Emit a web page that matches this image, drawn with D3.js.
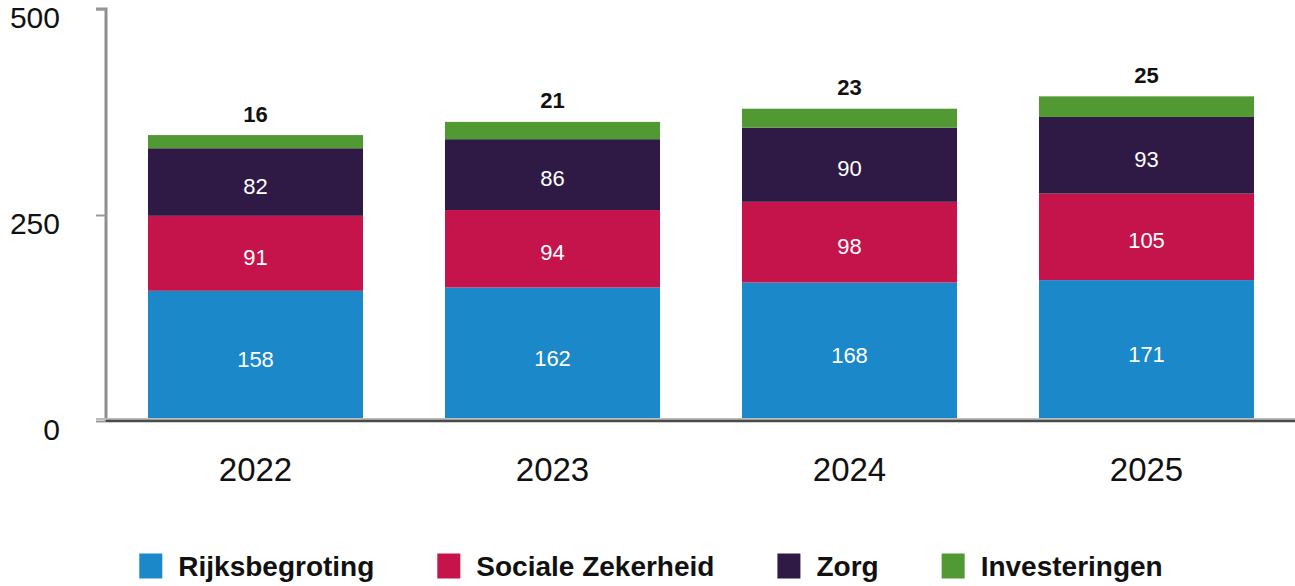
<!DOCTYPE html>
<html>
<head>
<meta charset="utf-8">
<script src="https://cdn.jsdelivr.net/npm/d3@7"></script>
<style>
  html, body { margin: 0; padding: 0; background: #ffffff; }
  svg { display: block; font-family: "Liberation Sans", Arial, sans-serif; }
</style>
</head>
<body>
<svg id="chart" width="1295" height="586"></svg>
<script>
const years = ["2022", "2023", "2024", "2025"];
const seriesNames = ["Rijksbegroting", "Sociale Zekerheid", "Zorg", "Investeringen"];
const rijksbegroting = [158, 162, 168, 171];
const socialeZekerheid = [91, 94, 98, 105];
const zorg = [82, 86, 90, 93];
const investeringen = [16, 21, 23, 25];
const yTicks = [0, 250, 500];
const colors = ["#1b88ca", "#c4144b", "#2e1a44", "#509933"];

const seriesValues = [rijksbegroting, socialeZekerheid, zorg, investeringen];
const rows = years.map((yr, i) => {
  const r = { year: yr };
  seriesNames.forEach((s, j) => r[s] = seriesValues[j][i]);
  return r;
});
const stacked = d3.stack().keys(seriesNames)(rows);

const svg = d3.select("#chart");

const x = d3.scaleBand().domain(years).range([107, 1295]).paddingInner(0.276).paddingOuter(0.138);
const y = d3.scaleLinear().domain([0, 500]).range([421, 9]);

// bars
const layers = svg.append("g").selectAll("g").data(stacked).join("g")
  .attr("fill", (d, i) => colors[i]);
layers.selectAll("rect").data(d => d).join("rect")
  .attr("x", d => x(d.data.year))
  .attr("width", x.bandwidth())
  .attr("y", d => y(d[1]))
  .attr("height", d => y(d[0]) - y(d[1]));

// inner labels (first three series)
stacked.slice(0, 3).forEach((layer) => {
  svg.append("g").selectAll("text").data(layer).join("text")
    .attr("x", d => x(d.data.year) + x.bandwidth() / 2)
    .attr("y", d => (y(d[0]) + y(d[1])) / 2 + 4)
    .attr("text-anchor", "middle")
    .attr("dominant-baseline", "central")
    .attr("fill", "#ffffff")
    .attr("font-size", 22)
    .text(d => d[1] - d[0]);
});

// top labels (Investeringen)
const topLayer = stacked[3];
svg.append("g").selectAll("text").data(topLayer).join("text")
  .attr("x", d => x(d.data.year) + x.bandwidth() / 2)
  .attr("y", d => y(d[1]) - 21)
  .attr("text-anchor", "middle")
  .attr("dominant-baseline", "central")
  .attr("fill", "#111111")
  .attr("font-weight", "bold")
  .attr("font-size", 22)
  .text(d => d[1] - d[0]);

// y axis
const yAxis = d3.axisLeft(y).tickValues(yTicks).tickSize(10).tickFormat(d3.format("d"));
const gy = svg.append("g").attr("transform", "translate(106,0)").call(yAxis);
gy.select(".domain").attr("stroke", "#8f8f8f").attr("stroke-width", 3)
  .attr("d", `M-10,${y(500)}H0V${y(0)}`);
gy.selectAll(".tick line").attr("stroke", "#9a9a9a").attr("stroke-width", 2);
gy.selectAll(".tick text")
  .attr("x", -46)
  .attr("dy", "0.35em")
  .attr("transform", "translate(0,8)")
  .attr("font-family", "'Liberation Sans', Arial, sans-serif")
  .attr("font-size", 30)
  .attr("fill", "#111111");

// baseline
svg.append("line").attr("x1", 96).attr("x2", 1295).attr("y1", y(0) - 2).attr("y2", y(0) - 2)
  .attr("stroke", "#bdbdbd").attr("stroke-width", 2);
svg.append("line").attr("x1", 106).attr("x2", 1295).attr("y1", y(0)).attr("y2", y(0))
  .attr("stroke", "#4a4a4a").attr("stroke-width", 2.5);

// x axis labels
const xAxis = d3.axisBottom(x).tickSize(0).tickPadding(0);
const gx = svg.append("g").attr("transform", `translate(0,${y(0)})`).call(xAxis);
gx.select(".domain").remove();
gx.selectAll(".tick text")
  .attr("y", 48)
  .attr("dy", "0.35em")
  .attr("font-family", "'Liberation Sans', Arial, sans-serif")
  .attr("font-size", 33)
  .attr("fill", "#111111");

// legend
const legend = svg.append("g");
const items = legend.selectAll("g").data(seriesNames).join("g");
items.append("rect").attr("width", 23).attr("height", 25).attr("y", -12.5)
  .attr("fill", (d, i) => colors[i]);
items.append("text").attr("x", 39).attr("dy", "0.35em")
  .attr("font-weight", "bold").attr("font-size", 28).attr("fill", "#111111")
  .text(d => d);
const widths = [];
items.each(function () {
  const w = 39 + d3.select(this).select("text").node().getComputedTextLength();
  widths.push(w);
});
const gap = 63;
const total = d3.sum(widths) + gap * (widths.length - 1);
let start = 651 - total / 2;
items.attr("transform", (d, i) => {
  const t = `translate(${start},566)`;
  start += widths[i] + gap;
  return t;
});
</script>
</body>
</html>
